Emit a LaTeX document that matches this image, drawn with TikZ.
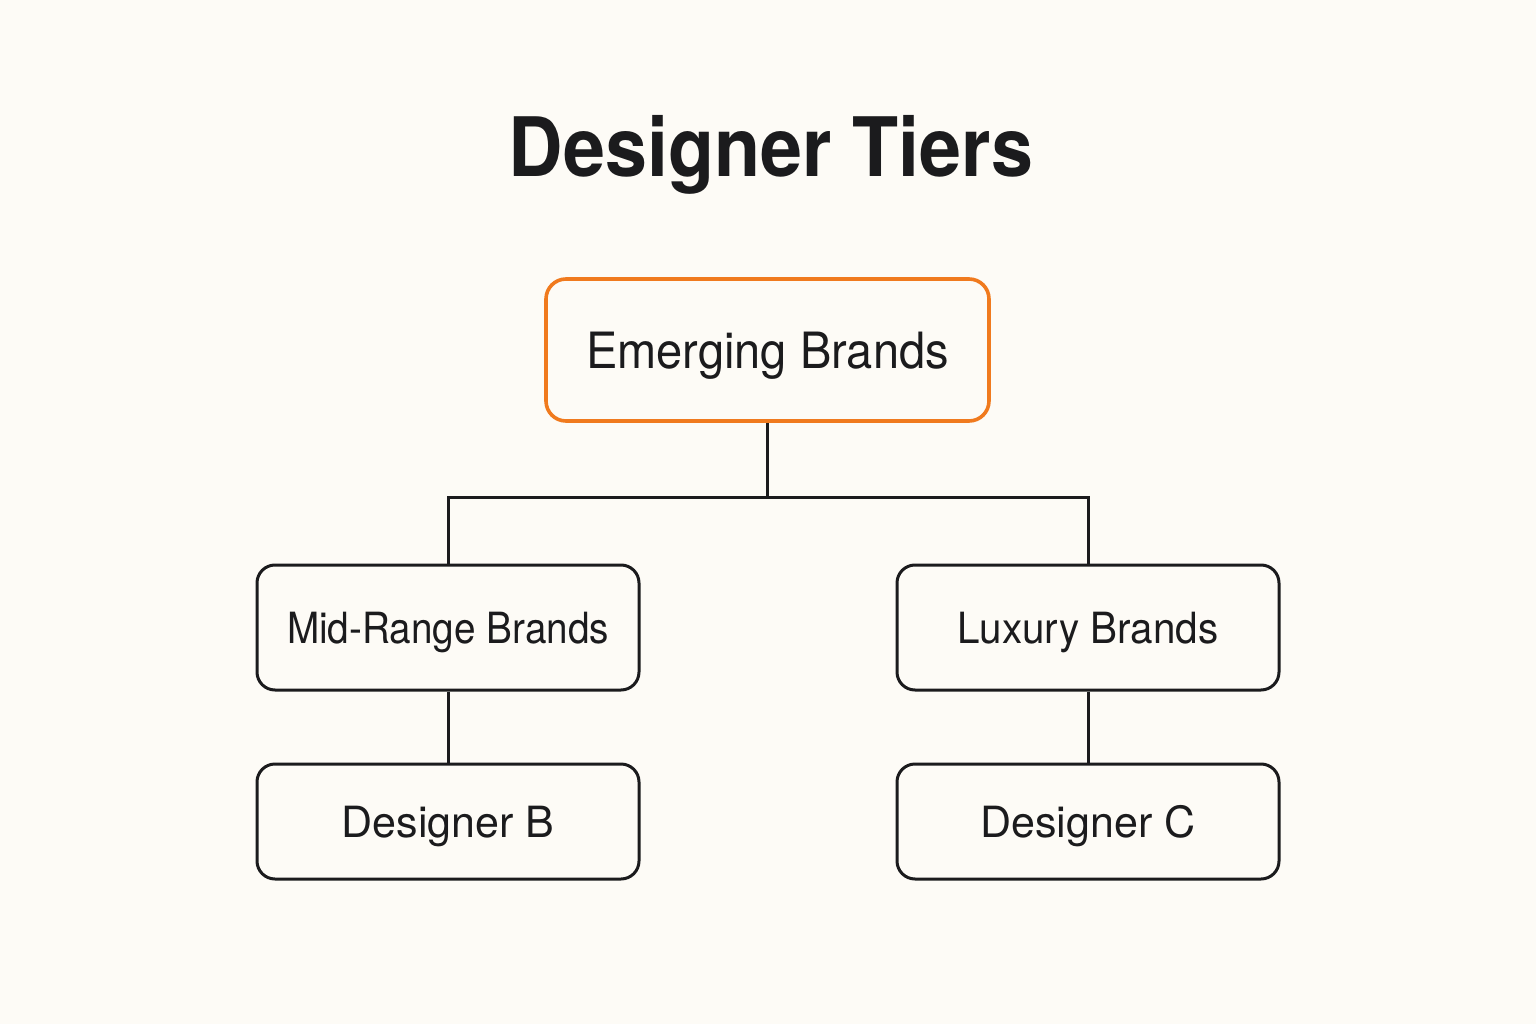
\documentclass[tikz,border=0pt]{standalone}
\usepackage{fontspec}
\setmainfont{TeX Gyre Heros}
\newfontfamily\titlefont[FakeStretch=0.92]{TeX Gyre Heros}
\newfontfamily\boxfont[FakeStretch=0.9]{TeX Gyre Heros}
\newfontfamily\boxfontm[FakeStretch=0.94]{TeX Gyre Heros}
\newfontfamily\boxfontw[FakeStretch=1.0]{TeX Gyre Heros}
\definecolor{bgcream}{HTML}{FDFBF6}
\definecolor{inkc}{HTML}{1B1B1D}
\definecolor{orangec}{HTML}{F07A1E}
\begin{document}
\begin{tikzpicture}[x=1pt,y=-1pt,
  tierbox/.style={draw=inkc, line width=3pt, rounded corners=18pt, fill=bgcream,
    text=inkc, inner sep=0pt, text depth=0pt, align=center},
  topbox/.style={tierbox, draw=orangec, line width=3.6pt, rounded corners=20pt},
  link/.style={draw=inkc, line width=3pt}]
\fill[bgcream] (0,0) rectangle (1536,1024);
\useasboundingbox (0,0) rectangle (1536,1024);
\node[text=inkc, inner sep=0pt, text height=60pt, text depth=0pt,
  font=\titlefont\bfseries\fontsize{82}{90}\selectfont] (title) at (771,147) {Designer Tiers};
\node[topbox, minimum width=443pt, minimum height=142pt, text height=36pt,
  font=\boxfontm\fontsize{50}{56}\selectfont] (em) at (767.5,350) {Emerging Brands};
\node[tierbox, minimum width=382pt, minimum height=125pt, text height=31pt,
  font=\boxfont\fontsize{43}{48}\selectfont] (mid) at (448,627.5) {Mid-Range Brands};
\node[tierbox, minimum width=382pt, minimum height=125pt, text height=31pt,
  font=\boxfontm\fontsize{43}{48}\selectfont] (lux) at (1088,627.5) {Luxury Brands};
\node[tierbox, minimum width=382pt, minimum height=115pt, text height=31pt,
  font=\boxfontw\fontsize{43}{48}\selectfont] (db) at (448,821.5) {Designer B};
\node[tierbox, minimum width=382pt, minimum height=115pt, text height=31pt,
  font=\boxfontw\fontsize{43}{48}\selectfont] (dc) at (1088,821.5) {Designer C};
\coordinate (j) at (767.5,497);
\draw[link] (em.south) -- (j);
\draw[link] (j) -| (mid.north);
\draw[link] (j) -| (lux.north);
\draw[link] (mid.south) -- (db.north);
\draw[link] (lux.south) -- (dc.north);
\end{tikzpicture}
\end{document}
